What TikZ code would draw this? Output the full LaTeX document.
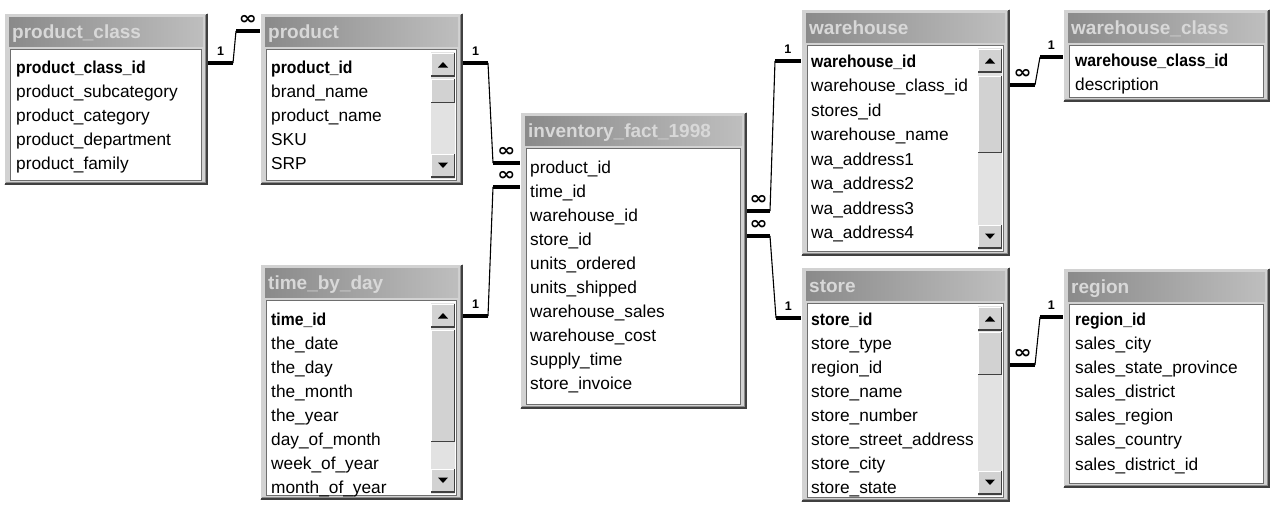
\documentclass[tikz,border=0pt]{standalone}
\usepackage{fontspec}
\usepackage{graphicx}
\setmainfont{Liberation Sans}
\newfontfamily\symfont{DejaVu Sans}
\usetikzlibrary{fit}

\definecolor{framegray}{HTML}{D2D2D2}
\definecolor{frameshadow}{HTML}{404040}
\definecolor{framemid}{HTML}{8C8C8C}
\definecolor{titledark}{HTML}{8A8A8A}
\definecolor{titlelight}{HTML}{BEBEBE}
\definecolor{titleink}{HTML}{D8D8D8}
\definecolor{listedge}{HTML}{6E6E6E}
\definecolor{trackgray}{HTML}{E2E2E2}

% primary key field: bold, slightly condensed
\newcommand\pk[1]{\scalebox{0.91}[1]{\bfseries #1}}

% table window: frame, title bar, white field list
\newcommand\dbtable[6]{% name, left, top, right, bottom, title
  \node[fit={(#2,#3) (#4,#5)}, inner sep=0pt, fill=framegray] (#1) {};
  \draw[white, line width=1pt] ({#2+0.5},{#5-1}) -- ({#2+0.5},{#3+0.5}) -- ({#4-1},{#3+0.5});
  \draw[frameshadow, line width=1.6pt] ({#2+1},{#5-0.8}) -- ({#4-0.8},{#5-0.8}) -- ({#4-0.8},{#3+1});
  \draw[framemid, line width=0.8pt] ({#2+2},{#5-2.2}) -- ({#4-2.2},{#5-2.2}) -- ({#4-2.2},{#3+2});
  \shade[left color=titledark, right color=titlelight] ({#2+5},{#3+4}) rectangle ({#4-5},{#3+33});
  \node[tabletitle] (#1-title) at ({#2+8},{#3+25.5}) {#6};
  \draw[listedge, line width=1.4pt, fill=white] ({#2+6.5},{#3+36.5}) rectangle ({#4-6.5},{#5-4.5});
}

% one column of field names
\newcommand\fieldlist[5]{% prefix, text x, first row y, row step, fields
  \foreach \f [count=\i] in {#5}
    \node[fieldtext] (#1-\i) at ({#2},{#3+(\i-1)*#4+5}) {\f};
}

% raised scroll bar button
\newcommand\sbbutton[4]{% x1, y1, x2, y2
  \fill[framegray] ({#1},{#2}) rectangle ({#3},{#4});
  \draw[white, line width=1pt] ({#1+0.5},{#4}) -- ({#1+0.5},{#2+0.5}) -- ({#3},{#2+0.5});
  \draw[frameshadow, line width=1.2pt] ({#1},{#4-0.6}) -- ({#3-0.6},{#4-0.6}) -- ({#3-0.6},{#2});
}

% vertical scroll bar at the right of a field list
\newcommand\scrollbar[5]{% frame right, list top, list bottom, thumb top, thumb bottom
  \fill[trackgray] ({#1-32},{#2+2}) rectangle ({#1-8},{#3-2});
  \sbbutton{#1-32}{#2+3}{#1-8}{#2+27}
  \fill ({#1-25},{#2+18}) -- ({#1-15},{#2+18}) -- ({#1-20},{#2+12.5}) -- cycle;
  \sbbutton{#1-32}{#4}{#1-8}{#5}
  \sbbutton{#1-32}{#3-27}{#1-8}{#3-3}
  \fill ({#1-25},{#3-18}) -- ({#1-15},{#3-18}) -- ({#1-20},{#3-12.5}) -- cycle;
}

\tikzset{
  tabletitle/.style={anchor=base west, inner sep=0pt, text=titleink,
    font=\bfseries\fontsize{19}{22}\selectfont},
  fieldtext/.style={anchor=base west, inner sep=0pt,
    font=\fontsize{17.3}{20}\selectfont},
  thickline/.style={line width=3.5pt, line cap=butt},
  thinline/.style={line width=1.1pt},
  one/.style={above=5.5pt, inner sep=0pt, font=\bfseries\fontsize{12.5}{12.5}\selectfont},
  many/.style={above=4.5pt, inner sep=0pt, font=\symfont\bfseries\fontsize{18}{18}\selectfont},
}
\newcommand\manysym{\scalebox{1.2}[1]{∞}}

\begin{document}
\begin{tikzpicture}[x=1pt, y=-1pt]
\useasboundingbox (0,0) rectangle (1272,507);
\fill[white] (0,0) rectangle (1272,507);

% product_class
\dbtable{pc}{4}{13}{208}{185}{product\_class}
\fieldlist{pc}{16}{68}{24}{\pk{product\_class\_id}, product\_subcategory,
  product\_category, product\_department, product\_family}

% product
\dbtable{pr}{260}{13}{463}{185}{product}
\fieldlist{pr}{271}{68}{24}{\pk{product\_id}, brand\_name, product\_name, SKU, SRP}
\scrollbar{463}{49.5}{180.5}{79}{103}

% time_by_day
\dbtable{td}{260}{264}{463}{500}{time\_by\_day}
\fieldlist{td}{271}{320}{24}{\pk{time\_id}, the\_date, the\_day, the\_month,
  the\_year, day\_of\_month, week\_of\_year, month\_of\_year}
\scrollbar{463}{300.5}{495.5}{330}{442}

% inventory_fact_1998
\dbtable{inv}{520}{112}{747}{409}{inventory\_fact\_1998}
\fieldlist{inv}{530}{168}{24}{product\_id, time\_id, warehouse\_id, store\_id,
  units\_ordered, units\_shipped, warehouse\_sales, warehouse\_cost,
  supply\_time, store\_invoice}

% warehouse
\dbtable{wh}{801}{9}{1010}{256}{warehouse}
\fieldlist{wh}{811}{62}{24.57}{\pk{warehouse\_id}, warehouse\_class\_id, stores\_id,
  warehouse\_name, wa\_address1, wa\_address2, wa\_address3, wa\_address4}
\scrollbar{1010}{45.5}{251.5}{76}{153}

% warehouse_class
\dbtable{wc}{1063}{9}{1270}{102}{warehouse\_class}
\fieldlist{wc}{1075}{61}{24}{\pk{warehouse\_class\_id}, description}

% store
\dbtable{st}{801}{267}{1010}{502}{store}
\fieldlist{st}{811}{320}{24.14}{\pk{store\_id}, store\_type, region\_id, store\_name,
  store\_number, store\_street\_address, store\_city, store\_state}
\scrollbar{1010}{303.5}{497.5}{332}{375}

% region
\dbtable{rg}{1063}{268}{1270}{488}{region}
\fieldlist{rg}{1075}{320}{24.17}{\pk{region\_id}, sales\_city, sales\_state\_province,
  sales\_district, sales\_region, sales\_country, sales\_district\_id}

% relationships
\draw[thickline] (pc.east |- 0,63) -- node[one]{1} (233,63);
\draw[thinline] (233,63) -- (236,31);
\draw[thickline] (236,31) -- node[many]{\manysym} (pr.west |- 0,31);

\draw[thickline] (pr.east |- 0,63) -- node[one]{1} (488,63);
\draw[thinline] (488,63) -- (493,163);
\draw[thickline] (493,163) -- node[many]{\manysym} (inv.west |- 0,163);

\draw[thickline] (td.east |- 0,316) -- node[one]{1} (488,316);
\draw[thinline] (488,316) -- (493,187);
\draw[thickline] (493,187) -- node[many]{\manysym} (inv.west |- 0,187);

\draw[thickline] (inv.east |- 0,211) -- node[many]{\manysym} (770,211);
\draw[thinline] (770,211) -- (775,61);
\draw[thickline] (775,61) -- node[one]{1} (wh.west |- 0,61);

\draw[thickline] (inv.east |- 0,236) -- node[many]{\manysym} (770,236);
\draw[thinline] (770,236) -- (776,318);
\draw[thickline] (776,318) -- node[one]{1} (st.west |- 0,318);

\draw[thickline] (wh.east |- 0,85) -- node[many]{\manysym} (1035,85);
\draw[thinline] (1035,85) -- (1040,57);
\draw[thickline] (1040,57) -- node[one]{1} (wc.west |- 0,57);

\draw[thickline] (st.east |- 0,365) -- node[many]{\manysym} (1035,365);
\draw[thinline] (1035,365) -- (1040,317);
\draw[thickline] (1040,317) -- node[one]{1} (rg.west |- 0,317);
\end{tikzpicture}
\end{document}
